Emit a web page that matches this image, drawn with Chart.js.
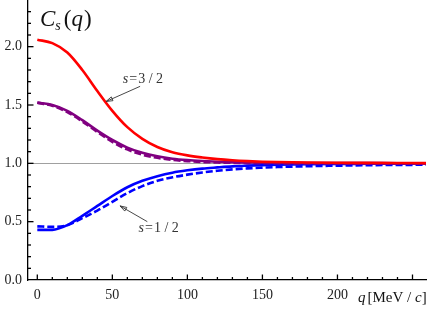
<!DOCTYPE html>
<html>
<head>
<meta charset="utf-8">
<script src="https://cdn.jsdelivr.net/npm/chart.js@4"></script>
<style>
  html, body { margin: 0; padding: 0; background: #fff; }
  #wrap { width: 436px; height: 309px; position: relative; }
</style>
</head>
<body>
<div id="wrap"><canvas id="grafico"></canvas></div>
<script>
// dados
var q = [0, 10, 20, 30, 40, 50, 60, 70, 80, 90, 100, 110, 120, 130, 140, 150, 160, 180, 200, 220, 240, 259];
var c32 = [2.06, 2.03, 1.95, 1.80, 1.62, 1.45, 1.31, 1.21, 1.14, 1.095, 1.068, 1.05, 1.036, 1.026, 1.019, 1.014, 1.011, 1.007, 1.005, 1.004, 1.003, 1.002];
var c32_tr = [1.52, 1.50, 1.45, 1.37, 1.28, 1.20, 1.135, 1.09, 1.06, 1.04, 1.028, 1.02, 1.014, 1.01, 1.008, 1.006, 1.005, 1.003, 1.002, 1.002, 1.001, 1.001];
var c32_tr_dash = [1.52, 1.495, 1.44, 1.36, 1.27, 1.185, 1.12, 1.075, 1.048, 1.03, 1.02, 1.012, 1.008, 1.005, 1.003, 1.002, 1.001, 1.0, 1.0, 1.0, 1.0, 1.0];
var c12 = [0.43, 0.43, 0.47, 0.55, 0.635, 0.72, 0.795, 0.85, 0.89, 0.92, 0.94, 0.955, 0.965, 0.974, 0.98, 0.985, 0.988, 0.992, 0.995, 0.996, 0.997, 0.998];
var c12_dash = [0.46, 0.455, 0.47, 0.53, 0.595, 0.67, 0.745, 0.805, 0.85, 0.88, 0.903, 0.922, 0.937, 0.948, 0.957, 0.963, 0.968, 0.975, 0.98, 0.984, 0.986, 0.988];

var xTicks = [0, 50, 100, 150, 200, 250];
var xLabels = ['0', '50', '100', '150', '200', ''];
var yTicks = [0, 0.5, 1.0, 1.5, 2.0];

function pts(arr) {
  return q.map(function (v, i) { return { x: v, y: arr[i] }; });
}

function serie(arr, cor, larg, dash) {
  return {
    data: pts(arr),
    borderColor: cor,
    borderWidth: larg,
    borderDash: dash || [],
    pointRadius: 0,
    fill: false,
    cubicInterpolationMode: 'monotone'
  };
}

// ticks para dentro, linha em 1, titulo e anotacoes
var extras = {
  id: 'extras',
  beforeDatasetsDraw: function (chart) {
    var ctx = chart.ctx, y = chart.scales.y;
    var a = chart.chartArea;
    ctx.save();
    ctx.strokeStyle = '#a0a0a0';
    ctx.lineWidth = 1;
    var y1 = Math.round(y.getPixelForValue(1.0)) + 0.5;
    ctx.beginPath(); ctx.moveTo(a.left, y1); ctx.lineTo(a.right, y1); ctx.stroke();
    ctx.restore();
  },
  afterDraw: function (chart) {
    var ctx = chart.ctx, x = chart.scales.x, y = chart.scales.y;
    var a = chart.chartArea;
    ctx.save();
    ctx.strokeStyle = '#000';
    ctx.lineWidth = 1.3;
    // x ticks
    for (var v = 0; v <= 250; v += 10) {
      var px = x.getPixelForValue(v);
      var len = (v % 50 === 0) ? 5.5 : 3;
      ctx.beginPath(); ctx.moveTo(px, a.bottom); ctx.lineTo(px, a.bottom - len); ctx.stroke();
    }
    // y ticks
    for (var k = 1; k <= 23; k++) {
      var py = y.getPixelForValue(k / 10);
      var l2 = (k % 5 === 0) ? 5.5 : 3;
      ctx.beginPath(); ctx.moveTo(a.left, py); ctx.lineTo(a.left + l2, py); ctx.stroke();
    }
    ctx.restore();

    // titulo C_s(q)
    ctx.save();
    ctx.fillStyle = '#111';
    ctx.textBaseline = 'alphabetic';
    var tx = 40, ty = 26;
    ctx.font = 'italic 23px "Liberation Serif"';
    ctx.fillText('C', tx, ty); tx += ctx.measureText('C').width;
    ctx.font = 'italic 14px "Liberation Serif"';
    ctx.fillText('s', tx, ty + 4); tx += ctx.measureText('s').width + 3;
    ctx.font = '23px "Liberation Serif"';
    ctx.fillText('(', tx, ty); tx += ctx.measureText('(').width;
    ctx.font = 'italic 23px "Liberation Serif"';
    ctx.fillText('q', tx, ty); tx += ctx.measureText('q').width + 1;
    ctx.font = '23px "Liberation Serif"';
    ctx.fillText(')', tx, ty);

    // rotulo do eixo x
    tx = 358; ty = 302;
    ctx.font = 'italic 15px "Liberation Serif"';
    ctx.fillText('q', tx, ty); tx += ctx.measureText('q').width + 2;
    ctx.font = '15px "Liberation Serif"';
    ctx.fillText('[MeV / ', tx, ty); tx += ctx.measureText('[MeV / ').width;
    ctx.font = 'italic 15px "Liberation Serif"';
    ctx.fillText('c', tx, ty); tx += ctx.measureText('c').width;
    ctx.font = '15px "Liberation Serif"';
    ctx.fillText(']', tx, ty);
    ctx.restore();

    // anotacoes s = 3/2 e s = 1/2
    rotulo(ctx, x.getPixelForValue(57), y.getPixelForValue(1.69), '3 / 2');
    rotulo(ctx, x.getPixelForValue(67.5), y.getPixelForValue(0.41), '1 / 2');
    seta(ctx, x.getPixelForValue(68.5), y.getPixelForValue(1.66), x.getPixelForValue(45.8), y.getPixelForValue(1.53));
    seta(ctx, x.getPixelForValue(73.3), y.getPixelForValue(0.50), x.getPixelForValue(55.1), y.getPixelForValue(0.635));
  }
};

function rotulo(ctx, px, py, frac) {
  ctx.save();
  ctx.fillStyle = '#333';
  ctx.textBaseline = 'alphabetic';
  ctx.font = 'italic 14px "Liberation Serif"';
  ctx.fillText('s', px, py); px += ctx.measureText('s').width + 1;
  ctx.font = '14px "Liberation Serif"';
  ctx.fillText('=', px, py); px += ctx.measureText('=').width + 1;
  ctx.fillText(frac, px, py);
  ctx.restore();
}

function seta(ctx, x0, y0, x1, y1) {
  var ang = Math.atan2(y1 - y0, x1 - x0);
  ctx.save();
  ctx.strokeStyle = '#333';
  ctx.fillStyle = '#333';
  ctx.lineWidth = 0.9;
  ctx.beginPath(); ctx.moveTo(x0, y0); ctx.lineTo(x1, y1); ctx.stroke();
  ctx.beginPath();
  ctx.moveTo(x1, y1);
  ctx.lineTo(x1 - 7 * Math.cos(ang - 0.3), y1 - 7 * Math.sin(ang - 0.3));
  ctx.lineTo(x1 - 7 * Math.cos(ang + 0.3), y1 - 7 * Math.sin(ang + 0.3));
  ctx.closePath();
  ctx.stroke();
  ctx.restore();
}

var ctx = document.getElementById('grafico').getContext('2d');
var grafico = new Chart(ctx, {
  type: 'line',
  data: {
    datasets: [
      serie(c32, 'rgb(255,0,0)', 2.6),
      serie(c32_tr_dash, 'rgb(128,0,128)', 2.8, [7, 3]),
      serie(c32_tr, 'rgb(128,0,128)', 2.6),
      serie(c12, 'rgb(0,0,255)', 2.6),
      serie(c12_dash, 'rgb(0,0,255)', 2.6, [7, 3])
    ]
  },
  options: {
    responsive: true,
    maintainAspectRatio: false,
    animation: false,
    layout: { padding: { top: 0, right: 10, left: 0, bottom: 0 } },
    plugins: { legend: { display: false }, tooltip: { enabled: false } },
    scales: {
      x: {
        type: 'linear',
        min: -6.2,
        max: 259,
        grid: { display: false, drawTicks: false },
        border: { display: true, color: '#000', width: 1.3 },
        afterBuildTicks: function (s) { s.ticks = xTicks.map(function (v) { return { value: v }; }); },
        afterFit: function (s) { s.height = 29; s.paddingLeft = 0; s.paddingRight = 0; },
        ticks: {
          padding: 7,
          color: '#222',
          font: { family: 'Liberation Serif', size: 14 },
          callback: function (v) { return xLabels[xTicks.indexOf(v)]; }
        }
      },
      y: {
        type: 'linear',
        min: 0,
        max: 2.4,
        grid: { display: false, drawTicks: false },
        border: { display: true, color: '#000', width: 1.3 },
        afterBuildTicks: function (s) { s.ticks = yTicks.map(function (v) { return { value: v }; }); },
        afterFit: function (s) { s.width = 28; s.paddingTop = 0; s.paddingBottom = 0; },
        ticks: {
          padding: 6,
          color: '#222',
          font: { family: 'Liberation Serif', size: 14 },
          callback: function (v) { return v.toFixed(1); }
        }
      }
    }
  },
  plugins: [extras]
});
</script>
</body>
</html>
